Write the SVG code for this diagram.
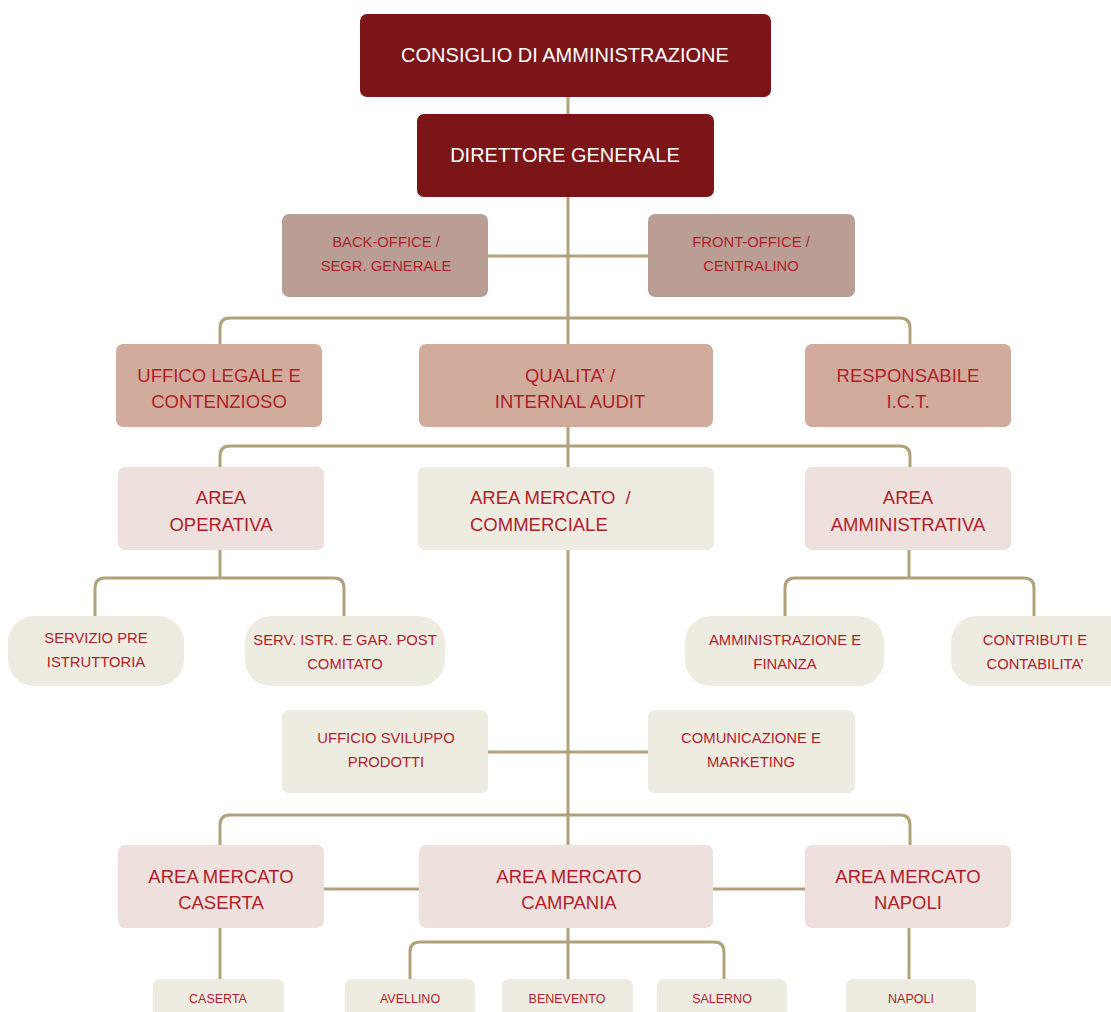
<svg xmlns="http://www.w3.org/2000/svg" width="1111" height="1012" viewBox="0 0 1111 1012">
<style>
.ln{fill:none;stroke:#B0A27A;stroke-width:3}
.t{font-family:"Liberation Sans",Arial,sans-serif;text-anchor:middle;dominant-baseline:central;fill:#B01E2C}
.w{fill:#FFFFFF;font-size:20px}
.big{font-size:18.5px}
.med{font-size:14.8px}
.sm{font-size:12.5px}
.c1{fill:#7B1518}
.c2{fill:#BB9E93}
.c3{fill:#D1AC9C}
.c4{fill:#EEE0DC}
.c5{fill:#EEEBE1}
</style>
<rect width="1111" height="1012" fill="#FFFFFF"/>
<g id="connectors">
<path class="ln" d="M568 97 V980"/>
<path class="ln" d="M488 256 H648"/>
<path class="ln" d="M220 344 V328 Q220 318 230 318 H900 Q910 318 910 328 V344"/>
<path class="ln" d="M220 467 V456 Q220 446 230 446 H900 Q910 446 910 456 V467"/>
<path class="ln" d="M220 550 V578"/>
<path class="ln" d="M95 616 V588 Q95 578 105 578 H334 Q344 578 344 588 V616"/>
<path class="ln" d="M909 550 V578"/>
<path class="ln" d="M785 616 V588 Q785 578 795 578 H1024 Q1034 578 1034 588 V616"/>
<path class="ln" d="M488 752 H648"/>
<path class="ln" d="M220 845 V825 Q220 815 230 815 H900 Q910 815 910 825 V845"/>
<path class="ln" d="M324 889 H419"/>
<path class="ln" d="M713 889 H805"/>
<path class="ln" d="M220 928 V979"/>
<path class="ln" d="M410 979 V952 Q410 942 420 942 H714 Q724 942 724 952 V979"/>
<path class="ln" d="M909 928 V979"/>
</g>
<g id="consiglio"><rect class="c1" x="360" y="14" width="411" height="83" rx="7"/><text class="t w" x="565" y="55">CONSIGLIO DI AMMINISTRAZIONE</text></g>
<g id="direttore"><rect class="c1" x="417" y="114" width="297" height="83" rx="7"/><text class="t w" x="565" y="155">DIRETTORE GENERALE</text></g>
<g id="backoffice"><rect class="c2" x="282" y="214" width="206" height="83" rx="7"/><text class="t med" x="386" y="242">BACK-OFFICE /</text><text class="t med" x="386" y="266">SEGR. GENERALE</text></g>
<g id="frontoffice"><rect class="c2" x="648" y="214" width="207" height="83" rx="7"/><text class="t med" x="751" y="242">FRONT-OFFICE /</text><text class="t med" x="751" y="266">CENTRALINO</text></g>
<g id="legale"><rect class="c3" x="116" y="344" width="206" height="83" rx="7"/><text class="t big" x="219" y="375">UFFICO LEGALE E</text><text class="t big" x="219" y="401">CONTENZIOSO</text></g>
<g id="qualita"><rect class="c3" x="419" y="344" width="294" height="83" rx="7"/><text class="t big" x="570" y="375">QUALITA’ /</text><text class="t big" x="570" y="401">INTERNAL AUDIT</text></g>
<g id="ict"><rect class="c3" x="805" y="344" width="206" height="83" rx="7"/><text class="t big" x="908" y="375">RESPONSABILE</text><text class="t big" x="908" y="401">I.C.T.</text></g>
<g id="operativa"><rect class="c4" x="118" y="467" width="206" height="83" rx="7"/><text class="t big" x="221" y="497">AREA</text><text class="t big" x="221" y="524">OPERATIVA</text></g>
<g id="commerciale"><rect class="c5" x="418" y="467" width="296" height="83" rx="7"/><text class="t big" x="470" y="497" style="text-anchor:start">AREA MERCATO &#160;/</text><text class="t big" x="470" y="524" style="text-anchor:start">COMMERCIALE</text></g>
<g id="amministrativa"><rect class="c4" x="805" y="467" width="206" height="83" rx="7"/><text class="t big" x="908" y="497">AREA</text><text class="t big" x="908" y="524">AMMINISTRATIVA</text></g>
<g id="preistruttoria"><rect class="c5" x="8" y="616" width="176" height="70" rx="26"/><text class="t med" x="96" y="638">SERVIZIO PRE</text><text class="t med" x="96" y="662">ISTRUTTORIA</text></g>
<g id="postcomitato"><rect class="c5" x="245" y="616" width="200" height="70" rx="26"/><text class="t med" x="345" y="640">SERV. ISTR. E GAR. POST</text><text class="t med" x="345" y="664">COMITATO</text></g>
<g id="finanza"><rect class="c5" x="685" y="616" width="199" height="70" rx="26"/><text class="t med" x="785" y="640">AMMINISTRAZIONE E</text><text class="t med" x="785" y="664">FINANZA</text></g>
<g id="contabilita"><rect class="c5" x="951" y="616" width="185" height="70" rx="26"/><text class="t med" x="1035" y="640">CONTRIBUTI E</text><text class="t med" x="1035" y="664">CONTABILITA’</text></g>
<g id="sviluppo"><rect class="c5" x="282" y="710" width="206" height="83" rx="7"/><text class="t med" x="386" y="738">UFFICIO SVILUPPO</text><text class="t med" x="386" y="762">PRODOTTI</text></g>
<g id="comunicazione"><rect class="c5" x="648" y="710" width="207" height="83" rx="7"/><text class="t med" x="751" y="738">COMUNICAZIONE E</text><text class="t med" x="751" y="762">MARKETING</text></g>
<g id="am-caserta"><rect class="c4" x="118" y="845" width="206" height="83" rx="7"/><text class="t big" x="221" y="876">AREA MERCATO</text><text class="t big" x="221" y="902">CASERTA</text></g>
<g id="am-campania"><rect class="c4" x="419" y="845" width="294" height="83" rx="7"/><text class="t big" x="569" y="876">AREA MERCATO</text><text class="t big" x="569" y="902">CAMPANIA</text></g>
<g id="am-napoli"><rect class="c4" x="805" y="845" width="206" height="83" rx="7"/><text class="t big" x="908" y="876">AREA MERCATO</text><text class="t big" x="908" y="902">NAPOLI</text></g>
<g id="caserta"><rect class="c5" x="153" y="979" width="131" height="50" rx="7"/><text class="t sm" x="218" y="999">CASERTA</text></g>
<g id="avellino"><rect class="c5" x="345" y="979" width="130" height="50" rx="7"/><text class="t sm" x="410" y="999">AVELLINO</text></g>
<g id="benevento"><rect class="c5" x="502" y="979" width="131" height="50" rx="7"/><text class="t sm" x="567" y="999">BENEVENTO</text></g>
<g id="salerno"><rect class="c5" x="657" y="979" width="130" height="50" rx="7"/><text class="t sm" x="722" y="999">SALERNO</text></g>
<g id="napoli"><rect class="c5" x="846" y="979" width="130" height="50" rx="7"/><text class="t sm" x="911" y="999">NAPOLI</text></g>
</svg>
